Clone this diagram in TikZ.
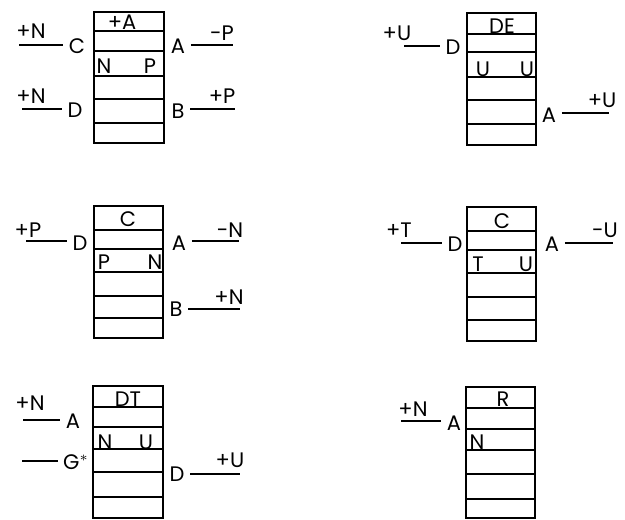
\documentclass[tikz,border=0pt]{standalone}
\usepackage{fontspec}
\setmainfont{Poppins}
\tikzset{
  lbl/.style={font=\fontsize{10.5}{12}\selectfont, inner sep=1.5pt},
  pin/.style={lbl, inner sep=2.5pt},
  wire/.style={line width=0.7pt},
}
\begin{document}
\begin{tikzpicture}[x=0.5pt, y=-0.5pt, line width=0.7pt]
\useasboundingbox (0,0) rectangle (625,519);

% tables
\draw (94,12) rectangle (164,143);
\foreach \r in {31,51,76,99,123} \draw (94,\r) -- (164,\r);
\draw (467,13) rectangle (536,145);
\foreach \r in {34,52,77,100,124} \draw (467,\r) -- (536,\r);
\draw (94,206) rectangle (163,338);
\foreach \r in {230,249,272,296,318} \draw (94,\r) -- (163,\r);
\draw (467,207) rectangle (536,341);
\foreach \r in {231,250,273,297,320} \draw (467,\r) -- (536,\r);
\draw (93,386) rectangle (163,518);
\foreach \r in {407,427,449,472,497} \draw (93,\r) -- (163,\r);
\draw (466,387) rectangle (535,518);
\foreach \r in {408,429,450,474,499} \draw (466,\r) -- (535,\r);

% first
\node (a1) [lbl] at (122,22) {+A};
\node (n1) [lbl] at (104,66) {N};
\node (p1) [lbl] at (150,66) {P};
\node (c1) [pin] at (77,46) {C};
\node (d1) [pin] at (75,110) {D};
\node (aa1) [pin] at (178,46) {A};
\node (b1) [pin] at (178,111) {B};
\coordinate (c1w) at (19,45);
\coordinate (d1w) at (22,109);
\coordinate (aa1e) at (233,45);
\coordinate (b1e) at (235,109);
\draw [wire] (c1w) -- (c1w -| c1.west);
\draw [wire] (d1w) -- (d1w -| d1.west);
\draw [wire] (aa1e -| aa1.east) -- (aa1e);
\draw [wire] (b1e -| b1.east) -- (b1e);
\node (c1t) [lbl] at (31,31) {+N};
\node (d1t) [lbl] at (31,96) {+N};
\node (aa1t) [lbl] at (222,33) {-P};
\node (b1t) [lbl] at (222,96) {+P};

% second
\node (de2) [lbl] at (502,26) {DE};
\node (u2) [lbl] at (483,69) {U};
\node (uu2) [lbl] at (527,69) {U};
\node (d2) [pin] at (453,47) {D};
\node (a2) [pin] at (549,115) {A};
\coordinate (d2w) at (404,46);
\coordinate (a2e) at (609,113);
\draw [wire] (d2w) -- (d2w -| d2.west);
\draw [wire] (a2e -| a2.east) -- (a2e);
\node (d2t) [lbl] at (397,33) {+U};
\node (a2t) [lbl] at (602,100) {+U};

% third
\node (c3) [lbl] at (128,219) {C};
\node (p3) [lbl] at (104,262) {P};
\node (n3) [lbl] at (155,262) {N};
\node (d3) [pin] at (80,243) {D};
\node (a3) [pin] at (179,243) {A};
\node (b3) [pin] at (176,309) {B};
\coordinate (d3w) at (26,241);
\coordinate (a3e) at (239,241);
\coordinate (b3e) at (240,309);
\draw [wire] (d3w) -- (d3w -| d3.west);
\draw [wire] (a3e -| a3.east) -- (a3e);
\draw [wire] (b3e -| b3.east) -- (b3e);
\node (d3t) [lbl] at (28,230) {+P};
\node (a3t) [lbl] at (230,230) {-N};
\node (b3t) [lbl] at (229,297) {+N};

% fourth
\node (c4) [lbl] at (502,221) {C};
\node (t4) [lbl] at (478,264) {T};
\node (u4) [lbl] at (526,264) {U};
\node (d4) [pin] at (455,244) {D};
\node (a4) [pin] at (552,244) {A};
\coordinate (d4w) at (401,243);
\coordinate (a4e) at (613,243);
\draw [wire] (d4w) -- (d4w -| d4.west);
\draw [wire] (a4e -| a4.east) -- (a4e);
\node (d4t) [lbl] at (399,230) {+T};
\node (a4t) [lbl] at (605,230) {-U};

% fifth
\node (dt5) [lbl] at (128,399) {DT};
\node (n5) [lbl] at (105,442) {N};
\node (u5) [lbl] at (146,442) {U};
\node (a5) [pin] at (73,421) {A};
\node (g5) [pin] at (76,462) {G$^{*}$};
\node (d5) [pin] at (177,474) {D};
\coordinate (a5w) at (23,420);
\coordinate (g5w) at (22,461);
\coordinate (d5e) at (240,474);
\draw [wire] (a5w) -- (a5w -| a5.west);
\draw [wire] (g5w) -- (g5w -| g5.west);
\draw [wire] (d5e -| d5.east) -- (d5e);
\node (a5t) [lbl] at (30,403) {+N};
\node (d5t) [lbl] at (230,460) {+U};

% sixth
\node (r6) [lbl] at (503,399) {R};
\node (n6) [lbl] at (477,442) {N};
\node (a6) [pin] at (454,423) {A};
\coordinate (a6w) at (401,421);
\draw [wire] (a6w) -- (a6w -| a6.west);
\node (a6t) [lbl] at (413,409) {+N};
\end{tikzpicture}
\end{document}
